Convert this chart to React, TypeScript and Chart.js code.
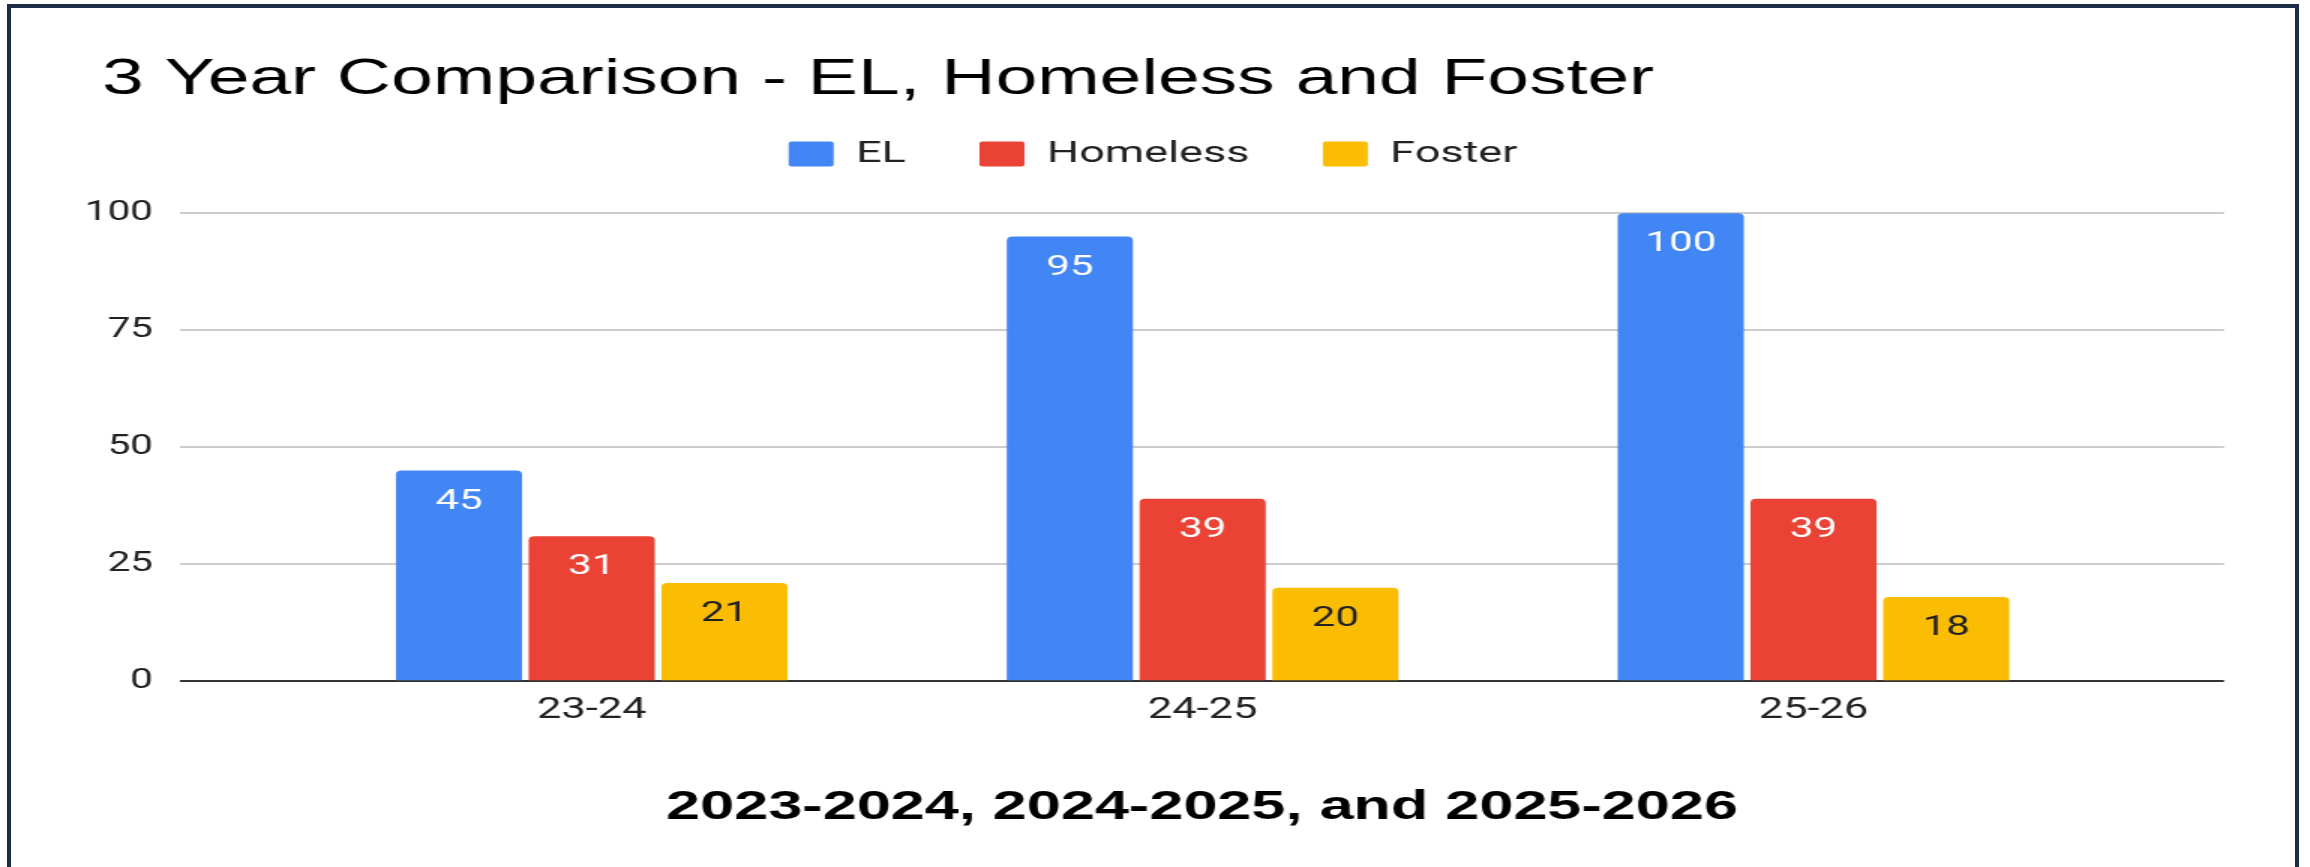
import React, { useEffect, useRef } from 'react';
import { Chart, registerables } from 'chart.js';

Chart.register(...registerables);

// ---- data ----
const CATEGORIES = ['23-24', '24-25', '25-26'];
const SERIES_NAMES = ['EL', 'Homeless', 'Foster'];
const EL_VALUES = [45, 95, 100];
const HOMELESS_VALUES = [31, 39, 39];
const FOSTER_VALUES = [21, 20, 18];
const Y_TICKS = [0, 25, 50, 75, 100];
const TITLE = '3 Year Comparison - EL, Homeless and Foster';
const X_TITLE = '2023-2024, 2024-2025, and 2025-2026';

// ---- styles ----
const COLORS = ['#4285F4', '#EA4335', '#FBBC04'];
const LABEL_COLORS = ['#ffffff', '#ffffff', '#222222'];
const ARIAL = '"Liberation Sans", Arial, sans-serif';
const ROBOTO = 'Roboto, "Liberation Sans", Arial, sans-serif';

const FULL_W = 2310;
const FULL_H = 867;
const STRETCH = 1.5; // the reference is stretched horizontally
const CANVAS_W = Math.round(FULL_W / STRETCH);

const titlePlugin = {
  id: 'slideTitle',
  afterDraw(chart: any) {
    const { ctx } = chart;
    ctx.save();
    ctx.font = `50px ${ARIAL}`;
    ctx.fillStyle = '#000000';
    ctx.textAlign = 'left';
    ctx.textBaseline = 'alphabetic';
    ctx.fillText(TITLE, 68, 94);
    ctx.restore();
  },
};

const valueLabelPlugin = {
  id: 'valueLabels',
  afterDatasetsDraw(chart: any) {
    const { ctx } = chart;
    ctx.save();
    ctx.font = `28px ${ROBOTO}`;
    ctx.textAlign = 'center';
    ctx.textBaseline = 'middle';
    chart.data.datasets.forEach((ds: any, i: number) => {
      const meta = chart.getDatasetMeta(i);
      meta.data.forEach((el: any, j: number) => {
        const v = ds.data[j].y;
        ctx.fillStyle = LABEL_COLORS[i];
        ctx.fillText(String(v), el.x, el.y + 31);
      });
    });
    ctx.restore();
  },
};

export default function App() {
  const ref = useRef<HTMLCanvasElement>(null);

  useEffect(() => {
    if (!ref.current) return;
    const seriesValues = [EL_VALUES, HOMELESS_VALUES, FOSTER_VALUES];
    const chart = new Chart(ref.current, {
      type: 'bar',
      data: {
        datasets: SERIES_NAMES.map((name, i) => ({
          label: name,
          data: seriesValues[i].map((v, j) => ({ x: j, y: v })),
          backgroundColor: COLORS[i],
          borderWidth: 0,
          borderRadius: 4,
          categoryPercentage: 0.652,
          barPercentage: 0.95,
        })),
      },
      options: {
        responsive: false,
        animation: false,
        devicePixelRatio: 1,
        layout: { padding: { left: 54.7, right: 57.3, top: 90, bottom: 25 } },
        plugins: {
          title: { display: false },
          tooltip: { enabled: false },
          legend: {
            display: true,
            position: 'top',
            align: 'center',
            labels: {
              boxWidth: 30,
              boxHeight: 25,
              padding: 49,
              color: '#222222',
              font: { family: ROBOTO, size: 30 },
              useBorderRadius: true,
              borderRadius: 2,
            },
          },
        },
        scales: {
          x: {
            type: 'linear',
            offset: false,
            bounds: 'data',
            min: -0.674,
            max: 2.672,
            grid: { display: false, drawTicks: false, offset: false },
            border: { display: false },
            afterBuildTicks: (scale: any) => {
              scale.ticks = CATEGORIES.map((_, i) => ({ value: i }));
            },
            ticks: {
              autoSkip: false,
              includeBounds: false,
              maxRotation: 0,
              padding: 12,
              color: '#222222',
              font: { family: ROBOTO, size: 29 },
              callback: (v: any) => CATEGORIES[Math.round(Number(v))] ?? '',
            },
            title: {
              display: true,
              text: X_TITLE,
              color: '#000000',
              font: { family: ARIAL, size: 40.8, weight: 'bold' },
              padding: { top: 43, bottom: 10 },
            },
          },
          y: {
            min: 0,
            max: 107.3,
            afterBuildTicks: (scale: any) => {
              scale.ticks = Y_TICKS.map((v) => ({ value: v }));
            },
            afterFit: (scale: any) => {
              scale.width = 65.3;
            },
            grid: {
              color: (c: any) => (c.tick && c.tick.value === 0 ? '#333333' : '#cccccc'),
              lineWidth: 2,
              drawTicks: false,
            },
            border: { display: false },
            ticks: {
              padding: 18,
              color: '#222222',
              font: { family: ROBOTO, size: 27 },
            },
          },
        },
      },
      plugins: [titlePlugin, valueLabelPlugin],
    } as any);
    return () => chart.destroy();
  }, []);

  return (
    <div
      style={{
        position: 'fixed',
        left: 0,
        top: 0,
        width: FULL_W,
        height: FULL_H,
        overflow: 'hidden',
        background: '#ffffff',
      }}
    >
      <canvas
        ref={ref}
        width={CANVAS_W}
        height={FULL_H}
        style={{ display: 'block', width: FULL_W, height: FULL_H }}
      />
      <div
        style={{
          position: 'absolute',
          left: 7,
          top: 4,
          width: 2292,
          height: 1000,
          border: '4px solid #1b2c46',
          boxSizing: 'border-box',
          pointerEvents: 'none',
        }}
      />
    </div>
  );
}
